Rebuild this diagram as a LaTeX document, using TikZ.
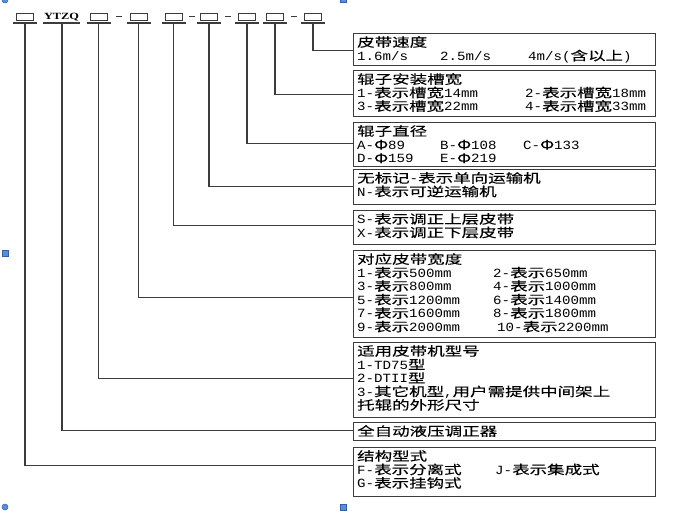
\documentclass[tikz,border=0pt]{standalone}
\usepackage{fontspec}
\newfontfamily\cjkf{Noto Sans CJK SC}[FakeStretch=1.4,FakeBold=0.15]
\newfontfamily\latf{Liberation Mono}[FakeStretch=1.13]
\newfontfamily\capf{Liberation Serif}[FakeStretch=1.3]
\newXeTeXintercharclass\CJKcls
\makeatletter
\count@="4E00
\loop
  \XeTeXcharclass\count@=\CJKcls
  \ifnum\count@<"9FFF \advance\count@ by 1 \repeat
\makeatother
\XeTeXcharclass"03A6=\CJKcls
\XeTeXinterchartoks 0 \CJKcls = {\cjkf}
\XeTeXinterchartoks 4095 \CJKcls = {\cjkf}
\XeTeXinterchartoks \CJKcls 0 = {\latf}
\XeTeXinterchartoks 4095 0 = {\latf}
\newcommand\cl[2]{\makebox[#1][l]{#2}}
\newcommand\txtfont{\fontsize{12.5}{13.5}\selectfont\XeTeXinterchartokenstate 1 \latf}
\definecolor{ln}{RGB}{60,60,60}
\definecolor{hdl}{RGB}{91,141,218}
\definecolor{hdlb}{RGB}{50,95,170}
\tikzset{
  sq/.style={draw=ln, line width=0.9pt, minimum width=17pt, minimum height=7pt, inner sep=0pt},
  conn/.style={draw=ln, line width=1.1pt},
  infobox/.style={draw=ln, line width=1pt, anchor=north west, minimum width=302pt, inner sep=0pt},
  txt/.style={anchor=north west, inner sep=0pt, align=left, font=\txtfont},
  handlesq/.style={fill=hdl, draw=hdlb, line width=0.5pt},
}
\begin{document}
\begin{tikzpicture}[x=1pt,y=-1pt]
\useasboundingbox (0,0) rectangle (676,515);
% selection handles
\filldraw[handlesq] (5,0) circle (3pt);
\filldraw[handlesq] (340,-2.5) rectangle (346,2.5);
\filldraw[handlesq] (2,250) rectangle (8,256);
\filldraw[handlesq] (5,507) circle (3pt);
\filldraw[handlesq] (340,504) rectangle (346,510);

% top code row
\node[sq] (s1) at (25,16.5) {};
\node[inner sep=0pt, font=\fontsize{9.5}{9.5}\capf\bfseries] (s2) at (61.5,17) {YTZQ};
\node[sq] (s3) at (98.5,16.5) {};
\node[sq] (s4) at (138.5,16.5) {};
\node[sq] (s5) at (173.5,16.5) {};
\node[sq] (s6) at (209,16.5) {};
\node[sq] (s7) at (247,16.5) {};
\node[sq] (s8) at (275,16.5) {};
\node[sq] (s9) at (313,16.5) {};
\foreach \n/\x in {1/25,3/98.5,4/138.5,5/173.5,6/209,7/247,8/275,9/313}{
  \coordinate (u\n) at (\x,23);
  \draw[conn] (\x-12,23) -- (\x+12,23);
}
\coordinate (u2) at (62,23);
\draw[conn] (43,23) -- (80,23);
% dashes
\draw[conn] (s3.east) ++(8.5,0) -- ++(6,0);
\draw[conn] (s5.east) ++(6.5,0) -- ++(6,0);
\draw[conn] (s6.east) ++(7.5,0) -- ++(6,0);
\draw[conn] (s8.east) ++(7.5,0) -- ++(6,0);

% info boxes
\node[infobox, minimum height=32pt] (b1) at (353,33) {};
\node[infobox, minimum height=46pt] (b2) at (353,70) {};
\node[infobox, minimum height=44pt] (b3) at (353,122) {};
\node[infobox, minimum height=35pt] (b4) at (353,169) {};
\node[infobox, minimum height=34pt] (b5) at (353,210) {};
\node[infobox, minimum height=87pt] (b6) at (353,250) {};
\node[infobox, minimum height=75pt] (b7) at (353,342) {};
\node[infobox, minimum height=18pt] (b8) at (353,422) {};
\node[infobox, minimum height=49pt] (b9) at (353,447) {};

% connectors
\draw[conn] (u9) |- ([yshift=-1pt]b1.west);
\draw[conn] (u8) |- ([yshift=-1pt]b2.west);
\draw[conn] (u7) |- ([yshift=1pt]b3.west);
\draw[conn] (u6) |- ([yshift=0.5pt]b4.west);
\draw[conn] (u5) |- ([yshift=2pt]b5.west);
\draw[conn] (u4) |- ([yshift=-3.5pt]b6.west);
\draw[conn] (u3) |- ([yshift=1.5pt]b7.west);
\draw[conn] (u2) |- ([yshift=1pt]b8.west);
\draw[conn] (u1) |- ([yshift=6.5pt]b9.west);

% texts
\node[txt] (t1) at (357,36) {皮带速度\\\cl{83pt}{1.6m/s}\cl{88pt}{2.5m/s}4m/s(含以上)};
\node[txt] (t2) at (357,73) {辊子安装槽宽\\\cl{168pt}{1-表示槽宽14mm}2-表示槽宽18mm\\\cl{168pt}{3-表示槽宽22mm}4-表示槽宽33mm};
\node[txt] (t3) at (357,125) {辊子直径\\\cl{83pt}{A-Φ89}\cl{83pt}{B-Φ108}C-Φ133\\\cl{83pt}{D-Φ159}E-Φ219};
\node[txt] (t4) at (357,172) {无标记-表示单向运输机\\N-表示可逆运输机};
\node[txt] (t5) at (357,213) {S-表示调正上层皮带\\X-表示调正下层皮带};
\node[txt] (t6) at (357,253) {对应皮带宽度\\\cl{136pt}{1-表示500mm}2-表示650mm\\\cl{136pt}{3-表示800mm}4-表示1000mm\\\cl{136pt}{5-表示1200mm}6-表示1400mm\\\cl{136pt}{7-表示1600mm}8-表示1800mm\\\cl{140pt}{9-表示2000mm}10-表示2200mm};
\node[txt] (t7) at (357,345) {适用皮带机型号\\1-TD75型\\2-DTII型\\3-其它机型,用户需提供中间架上\\托辊的外形尺寸};
\node[txt, anchor=west] (t8) at (357,431) {全自动液压调正器};
\node[txt] (t9) at (357,450) {结构型式\\\cl{138pt}{F-表示分离式}J-表示集成式\\G-表示挂钩式};
\end{tikzpicture}
\end{document}
